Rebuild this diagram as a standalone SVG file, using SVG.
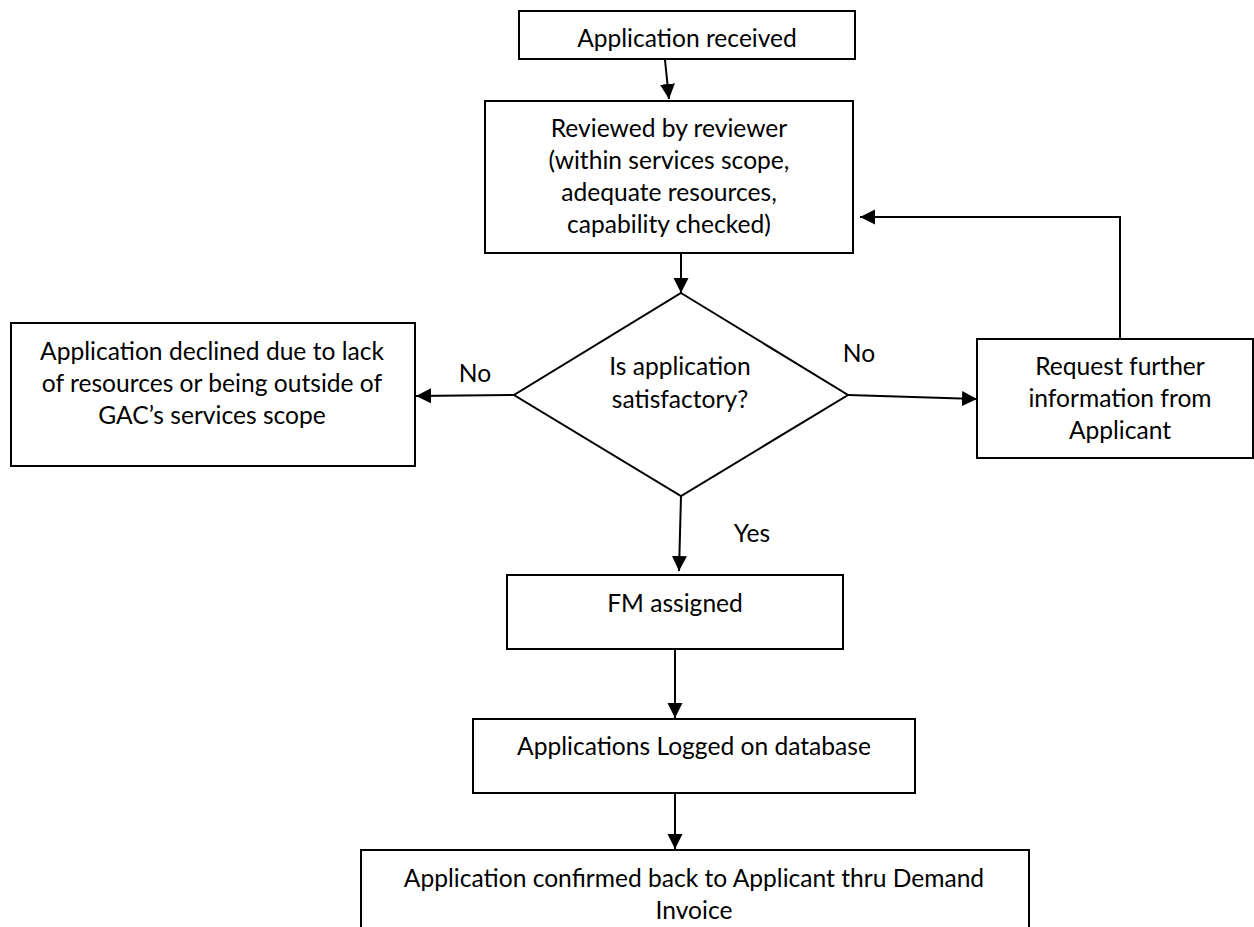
<svg xmlns="http://www.w3.org/2000/svg" width="1254" height="927" viewBox="0 0 1254 927">
<style>
.box{fill:#fff;stroke:#000;stroke-width:2}
.t{font-family:Lato,"Open Sans",sans-serif;font-size:24.6px;fill:#000;text-anchor:middle}
.c{fill:none;stroke:#000;stroke-width:2}
</style>
<defs>
<marker id="ah" markerUnits="userSpaceOnUse" markerWidth="16" markerHeight="16" viewBox="0 0 16 16" refX="15" refY="8" orient="auto">
<path d="M0,0.5 L15,8 L0,15.5 Z" fill="#000"/>
</marker>
</defs>
<rect width="1254" height="927" fill="#fff"/>
<g id="connectors">
<line class="c" x1="665" y1="60" x2="669" y2="99" marker-end="url(#ah)"/>
<line class="c" x1="681" y1="253" x2="681" y2="293" marker-end="url(#ah)"/>
<line class="c" x1="514" y1="395" x2="416" y2="396" marker-end="url(#ah)"/>
<line class="c" x1="848" y1="395" x2="977" y2="399" marker-end="url(#ah)"/>
<polyline class="c" points="1120,339 1120,217 860,217" marker-end="url(#ah)"/>
<line class="c" x1="681" y1="496" x2="679" y2="571" marker-end="url(#ah)"/>
<line class="c" x1="675" y1="649" x2="675" y2="718" marker-end="url(#ah)"/>
<line class="c" x1="675" y1="794" x2="675" y2="849" marker-end="url(#ah)"/>
<text class="t" x="475" y="382">No</text>
<text class="t" x="859" y="362">No</text>
<text class="t" x="752" y="542">Yes</text>
</g>
<g id="n1">
<rect class="box" x="519" y="11" width="336" height="48"/>
<text class="t" x="687" y="47">Application received</text>
</g>
<g id="n2">
<rect class="box" x="485" y="101" width="368" height="152"/>
<text class="t" x="669" y="137">Reviewed by reviewer</text>
<text class="t" x="669" y="169">(within services scope,</text>
<text class="t" x="669" y="201">adequate resources,</text>
<text class="t" x="669" y="233">capability checked)</text>
</g>
<g id="decision">
<polygon class="box" points="681,293 848,395 681,496 514,395"/>
<text class="t" x="680" y="375">Is application</text>
<text class="t" x="680" y="408">satisfactory?</text>
</g>
<g id="declined">
<rect class="box" x="11" y="323" width="404" height="143"/>
<text class="t" x="212" y="360">Application declined due to lack</text>
<text class="t" x="212" y="392">of resources or being outside of</text>
<text class="t" x="212" y="424">GAC’s services scope</text>
</g>
<g id="request">
<rect class="box" x="977" y="339" width="276" height="119"/>
<text class="t" x="1120" y="375">Request further</text>
<text class="t" x="1120" y="407">information from</text>
<text class="t" x="1120" y="439">Applicant</text>
</g>
<g id="fm">
<rect class="box" x="507" y="575" width="336" height="74"/>
<text class="t" x="675" y="612">FM assigned</text>
</g>
<g id="logged">
<rect class="box" x="473" y="719" width="442" height="74"/>
<text class="t" x="694" y="755">Applications Logged on database</text>
</g>
<g id="confirmed">
<rect class="box" x="361" y="850" width="668" height="100"/>
<text class="t" x="694" y="887">Application confirmed back to Applicant thru Demand</text>
<text class="t" x="694" y="919">Invoice</text>
</g>
</svg>
